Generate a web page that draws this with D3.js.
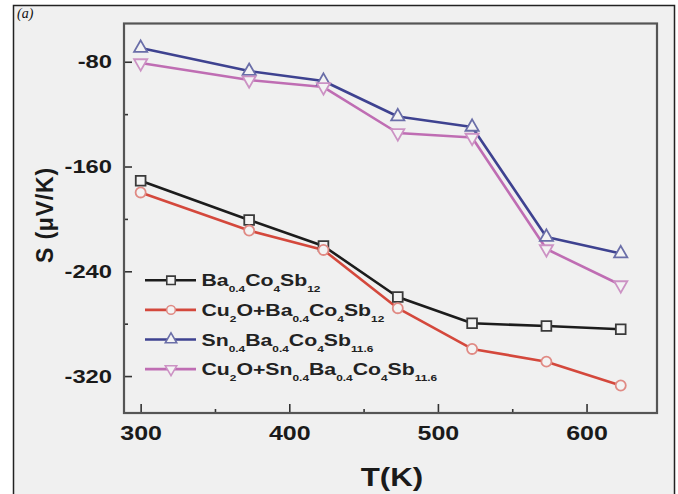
<!DOCTYPE html>
<html><head><meta charset="utf-8">
<script src="https://cdn.jsdelivr.net/npm/d3@7"></script>
<style>body{margin:0;background:#fff}svg{display:block}</style>
</head><body>
<svg id="c" width="678" height="494"></svg>
<script>
// ---- data ----
const temperatures = [300, 373, 423, 473, 523, 573, 623];
const baCoSb       = [-170.8, -200.8, -220.7, -259.6, -279.7, -281.8, -284.3];
const cu2oBaCoSb   = [-179.8, -208.9, -223.7, -268.2, -299.3, -309.0, -327.2];
const snBaCoSb     = [-69.5, -87.1, -94.7, -121.8, -129.8, -213.8, -226.4];
const cu2oSnBaCoSb = [-81.0, -94.0, -99.3, -134.4, -137.9, -223.0, -250.5];
const xTicks = [300, 400, 500, 600];
const xMinorTicks = [350, 450, 550];
const yTicks = [-80, -160, -240, -320];
const yMinorTicks = [-120, -200, -280];
// legend labels as [text, isSubscript] segments
const labelBa     = [["Ba",0],["0.4",1],["Co",0],["4",1],["Sb",0],["12",1]];
const labelCuBa   = [["Cu",0],["2",1],["O+Ba",0],["0.4",1],["Co",0],["4",1],["Sb",0],["12",1]];
const labelSnBa   = [["Sn",0],["0.4",1],["Ba",0],["0.4",1],["Co",0],["4",1],["Sb",0],["11.6",1]];
const labelCuSnBa = [["Cu",0],["2",1],["O+Sn",0],["0.4",1],["Ba",0],["0.4",1],["Co",0],["4",1],["Sb",0],["11.6",1]];
const xTitle = "T(K)";
const yTitle = "S (\u03bcV/K)";
const panelLabel = "(a)";

const series = [
  {values: baCoSb,       label: labelBa,     line: "#1c1c1c", mark: "#3a3a3a", sym: d3.symbolSquare,   size: 95, rot: 0},
  {values: cu2oBaCoSb,   label: labelCuBa,   line: "#d4483c", mark: "#e08a84", sym: d3.symbolCircle,   size: 80, rot: 0},
  {values: snBaCoSb,     label: labelSnBa,   line: "#3e4290", mark: "#6a6ea8", sym: d3.symbolTriangle, size: 75, rot: 0},
  {values: cu2oSnBaCoSb, label: labelCuSnBa, line: "#bf6db3", mark: "#cc92c4", sym: d3.symbolTriangle, size: 75, rot: 180}
];

const svg = d3.select("#c");
const font = "'Liberation Sans', Arial, sans-serif";
const SX = 1.25; // horizontal stretch of text seen in the reference

// figure background and border
svg.append("rect").attr("x", 13.5).attr("y", 5.5).attr("width", 661).attr("height", 500)
  .attr("fill", "#f0f0f0").attr("stroke", "#222").attr("stroke-width", 1.5);
svg.append("text").attr("x", 17).attr("y", 18).attr("font-family", "'Liberation Serif', serif")
  .attr("font-style", "italic").attr("font-size", 14).attr("fill", "#111").text(panelLabel);

const L = 124, R = 657, T = 23.5, B = 413;
const x = d3.scaleLinear().domain([288.8, 647.4]).range([L, R]);
const y = d3.scaleLinear().domain([-50.8, -348.2]).range([T, B]);

// axes
const gx = svg.append("g").attr("transform", `translate(0,${B})`)
  .call(d3.axisBottom(x).tickValues(xTicks).tickSizeInner(-9).tickSizeOuter(0).tickPadding(13));
const gxm = svg.append("g").attr("transform", `translate(0,${B})`)
  .call(d3.axisBottom(x).tickValues(xMinorTicks).tickSizeInner(-4).tickSizeOuter(0).tickFormat(""));
const gy = svg.append("g").attr("transform", `translate(${L},0)`)
  .call(d3.axisLeft(y).tickValues(yTicks).tickFormat(d => String(d)).tickSizeInner(-8).tickSizeOuter(0).tickPadding(11));
const gym = svg.append("g").attr("transform", `translate(${L},0)`)
  .call(d3.axisLeft(y).tickValues(yMinorTicks).tickSizeInner(-4).tickSizeOuter(0).tickFormat(""));
[gx, gxm, gy, gym].forEach(g => {
  g.select(".domain").remove();
  g.selectAll("line").attr("stroke", "#333").attr("stroke-width", 1.6);
});
gx.selectAll("text").attr("font-family", font).attr("font-weight", "bold").attr("font-size", 20)
  .attr("fill", "#1a1a1a").attr("transform", `scale(${SX},1)`);
gy.selectAll("text").attr("font-family", font).attr("font-weight", "bold").attr("font-size", 19)
  .attr("fill", "#1a1a1a").attr("x", -12 / SX).attr("transform", `scale(${SX},1)`);

// frame
svg.append("rect").attr("x", L).attr("y", T).attr("width", R - L).attr("height", B - T)
  .attr("fill", "none").attr("stroke", "#555").attr("stroke-width", 2.2);

// titles
svg.append("text").attr("transform", `translate(392,486) scale(${SX},1)`).attr("text-anchor", "middle")
  .attr("font-family", font).attr("font-weight", "bold").attr("font-size", 25).attr("fill", "#1a1a1a").text(xTitle);
svg.append("text").attr("transform", "translate(53,215) rotate(-90)").attr("text-anchor", "middle")
  .attr("font-family", font).attr("font-weight", "bold").attr("font-size", 23).attr("letter-spacing", 0.8)
  .attr("fill", "#1a1a1a").text(yTitle);

// series
const line = d3.line().x((d, i) => x(temperatures[i])).y(d => y(d));
series.forEach(s => {
  svg.append("path").datum(s.values).attr("d", line).attr("fill", "none")
    .attr("stroke", s.line).attr("stroke-width", 2.6).attr("stroke-linejoin", "round");
});
series.forEach(s => {
  svg.append("g").selectAll("path").data(s.values).join("path")
    .attr("d", d3.symbol().type(s.sym).size(s.size))
    .attr("transform", (d, i) => `translate(${x(temperatures[i])},${y(d)}) rotate(${s.rot})`)
    .attr("fill", "#f3f3f3").attr("stroke", s.mark).attr("stroke-width", 1.8);
});

// legend
const leg = svg.append("g");
series.forEach((s, k) => {
  const cy = 280.3 + k * 29.6;
  const g = leg.append("g").attr("transform", `translate(0,${cy})`);
  g.append("line").attr("x1", 145).attr("x2", 196).attr("y1", 0).attr("y2", 0)
    .attr("stroke", s.line).attr("stroke-width", 2.6);
  g.append("path").attr("d", d3.symbol().type(s.sym).size(s.size * 0.75))
    .attr("transform", `translate(171,0) rotate(${s.rot})`)
    .attr("fill", "#f3f3f3").attr("stroke", s.mark).attr("stroke-width", 1.6);
  const t = g.append("text").attr("transform", `translate(201.5,6) scale(${SX},1)`)
    .attr("font-family", font).attr("font-weight", "bold").attr("font-size", 17).attr("fill", "#222");
  let shifted = false;
  s.label.forEach(([txt, sub]) => {
    const ts = t.append("tspan").text(txt);
    if (sub && !shifted) { ts.attr("dy", 6).attr("font-size", 9.5); shifted = true; }
    else if (sub) { ts.attr("font-size", 9.5); }
    else if (!sub && shifted) { ts.attr("dy", -6); shifted = false; }
  });
});
</script>
</body></html>
